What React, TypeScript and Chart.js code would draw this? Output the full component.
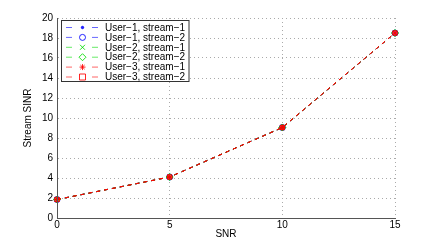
import React, { useEffect, useRef } from "react";
import { Chart, registerables } from "chart.js";

Chart.register(...registerables);

const snr = [0, 5, 10, 15];
const u1s1 = [1.85, 4.1, 9.05, 18.5];
const u1s2 = [1.85, 4.1, 9.05, 18.5];
const u2s1 = [1.85, 4.1, 9.05, 18.5];
const u2s2 = [1.85, 4.1, 9.05, 18.5];
const u3s1 = [1.85, 4.1, 9.05, 18.5];
const u3s2 = [1.85, 4.1, 9.05, 18.5];
const seriesNames = [
  "User\u22121, stream\u22121",
  "User\u22121, stream\u22122",
  "User\u22122, stream\u22121",
  "User\u22122, stream\u22122",
  "User\u22123, stream\u22121",
  "User\u22123, stream\u22122",
];
const xTicks = [0, 5, 10, 15];
const yTicks = [0, 2, 4, 6, 8, 10, 12, 14, 16, 18, 20];

const FONT = "'Liberation Sans', Arial, Helvetica, sans-serif";

const BLUE = "rgb(0,0,255)";
const GREEN = "rgb(0,220,0)";
const RED = "rgb(255,0,0)";

const styles = [
  { color: BLUE, point: "circle", radius: 1.2, fill: true },
  { color: BLUE, point: "circle", radius: 3, fill: false },
  { color: GREEN, point: "crossRot", radius: 2.5, fill: false },
  { color: GREEN, point: "rectRot", radius: 3.5, fill: false },
  { color: RED, point: "star", radius: 3, fill: false },
  { color: RED, point: "rect", radius: 3, fill: false },
];

function drawPoint(ctx: any, style: string, r: number, x: number, y: number) {
  ctx.beginPath();
  if (style === "circle") {
    ctx.arc(x, y, r, 0, Math.PI * 2);
    ctx.fill();
    ctx.stroke();
  } else if (style === "crossRot") {
    ctx.moveTo(x - r, y - r);
    ctx.lineTo(x + r, y + r);
    ctx.moveTo(x + r, y - r);
    ctx.lineTo(x - r, y + r);
    ctx.stroke();
  } else if (style === "rectRot") {
    ctx.moveTo(x, y - r);
    ctx.lineTo(x + r, y);
    ctx.lineTo(x, y + r);
    ctx.lineTo(x - r, y);
    ctx.closePath();
    ctx.stroke();
  } else if (style === "star") {
    ctx.moveTo(x - r, y);
    ctx.lineTo(x + r, y);
    ctx.moveTo(x, y - r);
    ctx.lineTo(x, y + r);
    const d = r * 0.7;
    ctx.moveTo(x - d, y - d);
    ctx.lineTo(x + d, y + d);
    ctx.moveTo(x + d, y - d);
    ctx.lineTo(x - d, y + d);
    ctx.stroke();
  } else if (style === "rect") {
    ctx.rect(x - r, y - r, 2 * r, 2 * r);
    ctx.stroke();
  }
}

const legendPlugin = {
  id: "matlabLegend",
  afterDraw(chart: any) {
    const ctx = chart.ctx;
    const ca = chart.chartArea;
    ctx.save();
    ctx.fillStyle = "#000";
    ctx.font = `10px ${FONT}`;
    ctx.textAlign = "center";
    ctx.textBaseline = "middle";
    ctx.fillText("SNR", (ca.left + ca.right) / 2, 234);
    ctx.translate(28, (ca.top + ca.bottom) / 2);
    ctx.rotate(-Math.PI / 2);
    ctx.fillText("Stream SINR", 0, 0);
    ctx.restore();

    const bx = 61.5, by = 20.5, bw = 127.5, bh = 61;
    ctx.save();
    ctx.fillStyle = "#fff";
    ctx.fillRect(bx, by, bw, bh);
    ctx.strokeStyle = "#333";
    ctx.lineWidth = 1;
    ctx.strokeRect(bx, by, bw, bh);
    ctx.font = `10px ${FONT}`;
    ctx.textBaseline = "middle";
    ctx.textAlign = "left";
    const dsList = chart.data.datasets;
    dsList.forEach((ds: any, i: number) => {
      const y = 27.5 + i * 9.9;
      ctx.save();
      ctx.strokeStyle = ds.borderColor;
      ctx.globalAlpha = 0.6;
      ctx.lineWidth = 1;
      ctx.beginPath();
      ctx.moveTo(66, y);
      ctx.lineTo(72, y);
      ctx.moveTo(92, y);
      ctx.lineTo(98, y);
      ctx.stroke();
      ctx.globalAlpha = 0.85;
      ctx.strokeStyle = ds.borderColor;
      ctx.fillStyle = ds.pointBackgroundColor;
      drawPoint(ctx, ds.pointStyle, ds.pointRadius, 82.5, y);
      ctx.restore();
      ctx.fillStyle = "#000";
      ctx.fillText(seriesNames[i], 105, y + 0.5);
    });
    ctx.restore();
  },
};

export default function App() {
  const ref = useRef<HTMLCanvasElement>(null);
  useEffect(() => {
    const all = [u1s1, u1s2, u2s1, u2s2, u3s1, u3s2];
    const chart = new Chart(ref.current!, {
      type: "line",
      data: {
        datasets: all.map((vals, i) => ({
          label: seriesNames[i],
          data: snr.map((x, j) => ({ x, y: vals[j] })),
          order: all.length - i,
          borderColor: styles[i].color,
          backgroundColor: styles[i].color,
          pointStyle: styles[i].point as any,
          pointRadius: styles[i].radius,
          pointBorderColor: styles[i].color,
          pointBackgroundColor: styles[i].fill ? styles[i].color : "rgba(0,0,0,0)",
          pointBorderWidth: 1,
          borderWidth: 1,
          borderDash: [4, 4],
          fill: false,
          tension: 0,
          clip: false,
        })),
      },
      options: {
        animation: false,
        responsive: false,
        maintainAspectRatio: false,
        layout: { padding: { top: 18, right: 41, bottom: 0, left: 0 } },
        plugins: { legend: { display: false }, tooltip: { enabled: false } },
        scales: {
          x: {
            type: "linear",
            min: 0,
            max: 15,
            afterFit: (s: any) => { s.height = 27; },
            afterBuildTicks: (s: any) => { s.ticks = xTicks.map((v) => ({ value: v })); },
            ticks: { font: { family: FONT, size: 10 }, color: "#000", padding: 1, maxRotation: 0 },
            grid: { color: "#aaa", drawTicks: false } as any,
            border: { display: true, color: "#555", width: 1, dash: [1, 3] } as any,
          },
          y: {
            type: "linear",
            min: 0,
            max: 20,
            afterFit: (s: any) => { s.width = 57; },
            afterBuildTicks: (s: any) => { s.ticks = yTicks.map((v) => ({ value: v })); },
            ticks: { font: { family: FONT, size: 10 }, color: "#000", padding: 4 },
            grid: { color: "#aaa", drawTicks: false } as any,
            border: { display: true, color: "#555", width: 1, dash: [1, 3] } as any,
          },
        },
      },
      plugins: [
        {
          id: "axesSolid",
          afterDatasetsDraw(c: any) {
            const ctx = c.ctx;
            const ca = c.chartArea;
            ctx.save();
            ctx.strokeStyle = "#555";
            ctx.lineWidth = 1;
            ctx.setLineDash([]);
            ctx.beginPath();
            ctx.moveTo(Math.round(ca.left) + 0.5, ca.top);
            ctx.lineTo(Math.round(ca.left) + 0.5, Math.round(ca.bottom) + 0.5);
            ctx.lineTo(ca.right, Math.round(ca.bottom) + 0.5);
            ctx.stroke();
            ctx.restore();
          },
        },
        legendPlugin,
      ],
    } as any);
    return () => chart.destroy();
  }, []);
  return (
    <div style={{ position: "fixed", left: 0, top: 0, width: 436, height: 245, background: "#fff" }}>
      <canvas ref={ref} width={436} height={245} style={{ width: 436, height: 245 }} />
    </div>
  );
}
